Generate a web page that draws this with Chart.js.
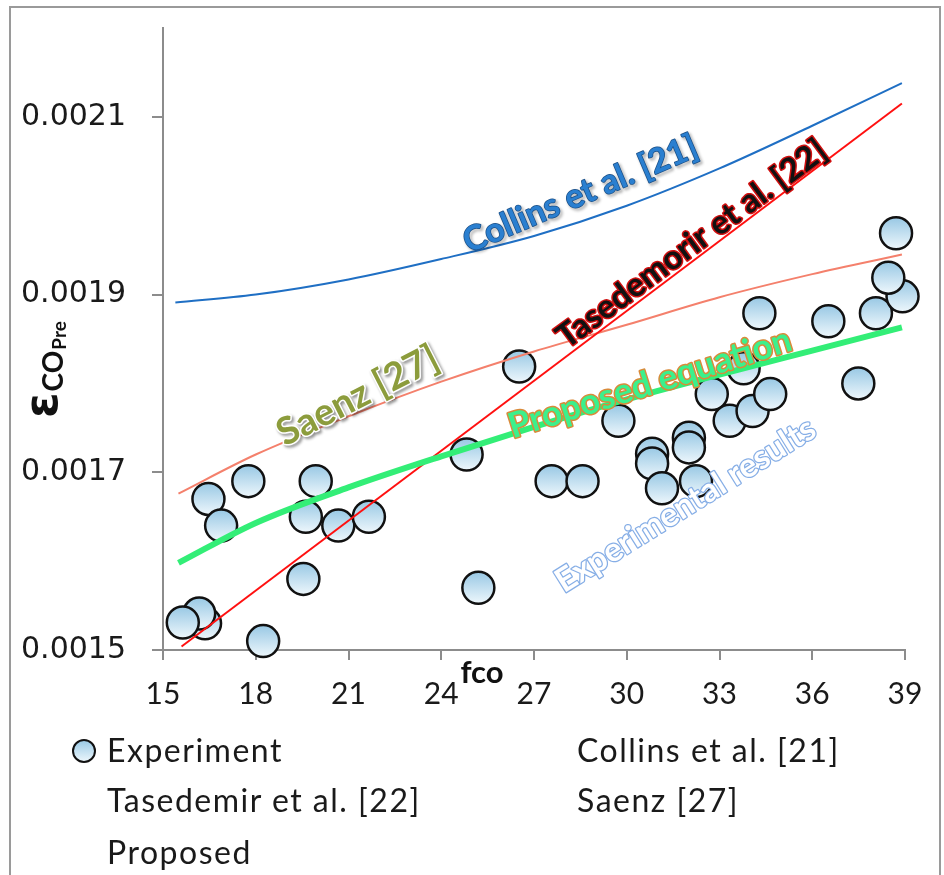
<!DOCTYPE html>
<html>
<head>
<meta charset="utf-8">
<script src="https://cdn.jsdelivr.net/npm/chart.js@4"></script>
<style>
  body { margin: 0; background: #fff; }
  #quadro { position: relative; width: 944px; height: 875px; overflow: hidden; }
  #moldura { position: absolute; left: 9px; top: 6px; width: 928px; height: 900px;
             border-left: 2px solid #9a9a9a; border-top: 2px solid #9a9a9a; border-right: 2px solid #9a9a9a; }
  canvas { position: absolute; left: 0; top: 0; }
  .leg { position: absolute; font-family: Lato, sans-serif; font-size: 32px; color: #1a1a1a;
         letter-spacing: 1.5px; line-height: 38px; white-space: nowrap; }
  .marca { position: absolute; width: 20px; height: 20px; border-radius: 50%; border: 2px solid #111;
           background: linear-gradient(#9ccbe6, #eaf5fb); }
</style>
</head>
<body>
<div id="quadro">
  <div id="moldura"></div>
  <canvas id="grafico" width="944" height="875"></canvas>
  <div class="marca" style="left:72px; top:739px;"></div>
  <div class="leg" style="left:107px; top:731px;">Experiment</div>
  <div class="leg" style="left:577px; top:731px;">Collins et al. [21]</div>
  <div class="leg" style="left:107px; top:781px;">Tasedemir et al. [22]</div>
  <div class="leg" style="left:577px; top:781px;">Saenz [27]</div>
  <div class="leg" style="left:107px; top:833px;">Proposed</div>
</div>
<script>
// eixos
const ticksY = [0.0015, 0.0017, 0.0019, 0.0021];
const ticksX = [15, 18, 21, 24, 27, 30, 33, 36, 39];

// resultados experimentais
const expX = [16.36, 16.17, 15.64, 16.47, 16.88, 17.76, 18.24, 19.54, 19.62, 19.94, 20.67, 21.66,
  24.82, 25.20, 26.52, 27.57, 28.57, 29.73, 30.82, 30.82, 31.14, 32.01, 32.01, 32.24, 32.75,
  33.33, 33.78, 34.07, 34.64, 34.29, 37.49, 36.52, 38.06, 38.92, 38.46, 38.71];
const expY = [0.001530, 0.001541, 0.001531, 0.001670, 0.001640, 0.001690, 0.001510, 0.001580, 0.001650, 0.001690, 0.001640, 0.001650,
  0.001720, 0.001570, 0.001819, 0.001690, 0.001690, 0.001758, 0.001721, 0.001710, 0.001682, 0.001739, 0.001728, 0.001690, 0.001788,
  0.001758, 0.001817, 0.001769, 0.001788, 0.001879, 0.001800, 0.001870, 0.001879, 0.001898, 0.001919, 0.001969];

// modelos
const collinsX = [15.4, 18, 21, 24, 27, 30, 33, 36, 38.9];
const collinsY = [0.001891, 0.001900, 0.001917, 0.001940, 0.001966, 0.002000, 0.002042, 0.002090, 0.002138];
const tasX = [15.6, 38.9];
const tasY = [0.001504, 0.002115];
const saenzX = [15.5, 18, 21, 24, 27, 30, 33, 36, 38.9];
const saenzY = [0.001676, 0.001720, 0.001763, 0.001802, 0.001836, 0.001866, 0.001897, 0.001923, 0.001945];
const propX = [15.5, 18, 21, 24, 27, 30, 33, 36, 38.9];
const propY = [0.001598, 0.001643, 0.001683, 0.001718, 0.001751, 0.001782, 0.001810, 0.001837, 0.001863];

function pares(xs, ys) {
  return xs.map((x, i) => ({ x: x, y: ys[i] }));
}

function corPonto(c) {
  const chart = c.chart;
  if (!chart.chartArea || c.type !== 'data' || !c.parsed) return '#c4e1f1';
  const y = chart.scales.y.getPixelForValue(c.parsed.y);
  const g = chart.ctx.createLinearGradient(0, y - 16, 0, y + 16);
  g.addColorStop(0, '#98c8e4');
  g.addColorStop(1, '#eef7fc');
  return g;
}

// textos dentro do grafico
const rotulos = [
  { texto: 'Collins et al. [21]', x: 28.5, y: 0.002013, ang: -23, cor: '#2a7fd0', contorno: '#1b4f86', larg: 1.5, sombra: true, fonte: 'bold 34px Lato' },
  { texto: 'Tasedemorir et al. [22]', x: 32.1, y: 0.001957, ang: -36.5, cor: '#111', contorno: '#d01010', larg: 3, sombra: false, fonte: 'bold 33px Lato' },
  { texto: 'Saenz [27]', x: 21.3, y: 0.001786, ang: -27, cor: '#8c9c3c', contorno: '#ffffff', larg: 3, sombra: true, fonte: 'bold 38px Lato' },
  { texto: 'Proposed equation', x: 30.75, y: 0.001800, ang: -17.5, cor: '#3cf08c', contorno: '#d98a3a', larg: 3, sombra: false, fonte: 'bold 35px Lato' },
  { texto: 'Experimental results', x: 31.9, y: 0.001663, ang: -32, cor: '#ffffff', contorno: '#86aee6', larg: 2.5, sombra: false, fonte: 'bold 33px Lato' }
];

const pluginTextos = {
  id: 'textos',
  afterDatasetsDraw(chart) {
    const ctx = chart.ctx;
    const sx = chart.scales.x, sy = chart.scales.y;
    rotulos.forEach(r => {
      ctx.save();
      ctx.translate(sx.getPixelForValue(r.x), sy.getPixelForValue(r.y));
      ctx.rotate(r.ang * Math.PI / 180);
      ctx.font = r.fonte;
      ctx.textAlign = 'center';
      ctx.textBaseline = 'middle';
      ctx.lineJoin = 'round';
      if (r.sombra) {
        ctx.shadowColor = 'rgba(0,0,0,0.45)';
        ctx.shadowOffsetX = 2;
        ctx.shadowOffsetY = 2;
        ctx.shadowBlur = 3;
      }
      ctx.strokeStyle = r.contorno;
      ctx.lineWidth = r.larg;
      ctx.strokeText(r.texto, 0, 0);
      ctx.shadowColor = 'transparent';
      ctx.fillStyle = r.cor;
      ctx.fillText(r.texto, 0, 0);
      ctx.restore();
    });

    // titulo do eixo x
    ctx.save();
    ctx.font = 'bold 31px Lato';
    ctx.fillStyle = '#111';
    ctx.textAlign = 'center';
    ctx.textBaseline = 'alphabetic';
    ctx.fillText('fco', 482, 683);
    ctx.restore();

    // titulo do eixo y
    ctx.save();
    ctx.translate(57, 420);
    ctx.rotate(-Math.PI / 2);
    ctx.fillStyle = '#111';
    ctx.textBaseline = 'alphabetic';
    ctx.font = 'bold 46px "DejaVu Sans"';
    ctx.fillText('ε', 2, 0);
    let w = 2 + ctx.measureText('ε').width + 1;
    ctx.font = 'bold 28px Lato';
    ctx.fillText('CO', w, 6);
    w += ctx.measureText('CO').width + 1;
    ctx.font = 'bold 19px Lato';
    ctx.fillText('Pre', w, 9);
    ctx.restore();
  }
};

new Chart(document.getElementById('grafico'), {
  type: 'scatter',
  data: {
    datasets: [
      {
        label: 'Experiment',
        data: pares(expX, expY),
        pointRadius: 16,
        pointHoverRadius: 16,
        borderColor: '#111',
        borderWidth: 2.5,
        backgroundColor: corPonto,
        clip: false,
        order: 10
      },
      {
        label: 'Collins et al. [21]',
        data: pares(collinsX, collinsY),
        showLine: true,
        borderColor: '#1f6fc4',
        borderWidth: 2,
        pointRadius: 0,
        cubicInterpolationMode: 'monotone',
        order: 1
      },
      {
        label: 'Tasedemir et al. [22]',
        data: pares(tasX, tasY),
        showLine: true,
        borderColor: '#ff1010',
        borderWidth: 2,
        pointRadius: 0,
        order: 1
      },
      {
        label: 'Saenz [27]',
        data: pares(saenzX, saenzY),
        showLine: true,
        borderColor: '#f4806c',
        borderWidth: 2,
        pointRadius: 0,
        cubicInterpolationMode: 'monotone',
        order: 1
      },
      {
        label: 'Proposed',
        data: pares(propX, propY),
        showLine: true,
        borderColor: '#33ee77',
        borderWidth: 6,
        pointRadius: 0,
        cubicInterpolationMode: 'monotone',
        order: 0
      }
    ]
  },
  options: {
    responsive: false,
    devicePixelRatio: 1,
    animation: false,
    layout: { padding: { top: 28, right: 39, left: 0, bottom: 0 } },
    plugins: {
      legend: { display: false },
      tooltip: { enabled: false }
    },
    scales: {
      x: {
        type: 'linear',
        min: 15,
        max: 39,
        afterFit: s => { s.height = 225; s.paddingLeft = 0; s.paddingRight = 0; },
        afterBuildTicks: s => { s.ticks = ticksX.map(v => ({ value: v })); },
        border: { display: true, color: '#8c8c8c', width: 2 },
        grid: { drawOnChartArea: false, color: '#8c8c8c', lineWidth: 2, tickLength: 10 },
        ticks: {
          padding: 16,
          color: '#1a1a1a',
          font: { family: 'Lato', size: 30 },
          maxRotation: 0,
          callback: v => String(v)
        }
      },
      y: {
        type: 'linear',
        min: 0.0015,
        max: 0.0022,
        afterFit: s => { s.width = 163; s.paddingTop = 0; s.paddingBottom = 0; },
        afterBuildTicks: s => { s.ticks = ticksY.map(v => ({ value: v })); },
        border: { display: true, color: '#8c8c8c', width: 2 },
        grid: { drawOnChartArea: false, color: '#8c8c8c', lineWidth: 2, tickLength: 11 },
        ticks: {
          padding: 26,
          color: '#1a1a1a',
          font: { family: 'DejaVu Sans', size: 30 },
          callback: v => Number(v).toFixed(4)
        }
      }
    }
  },
  plugins: [pluginTextos]
});
</script>
</body>
</html>
